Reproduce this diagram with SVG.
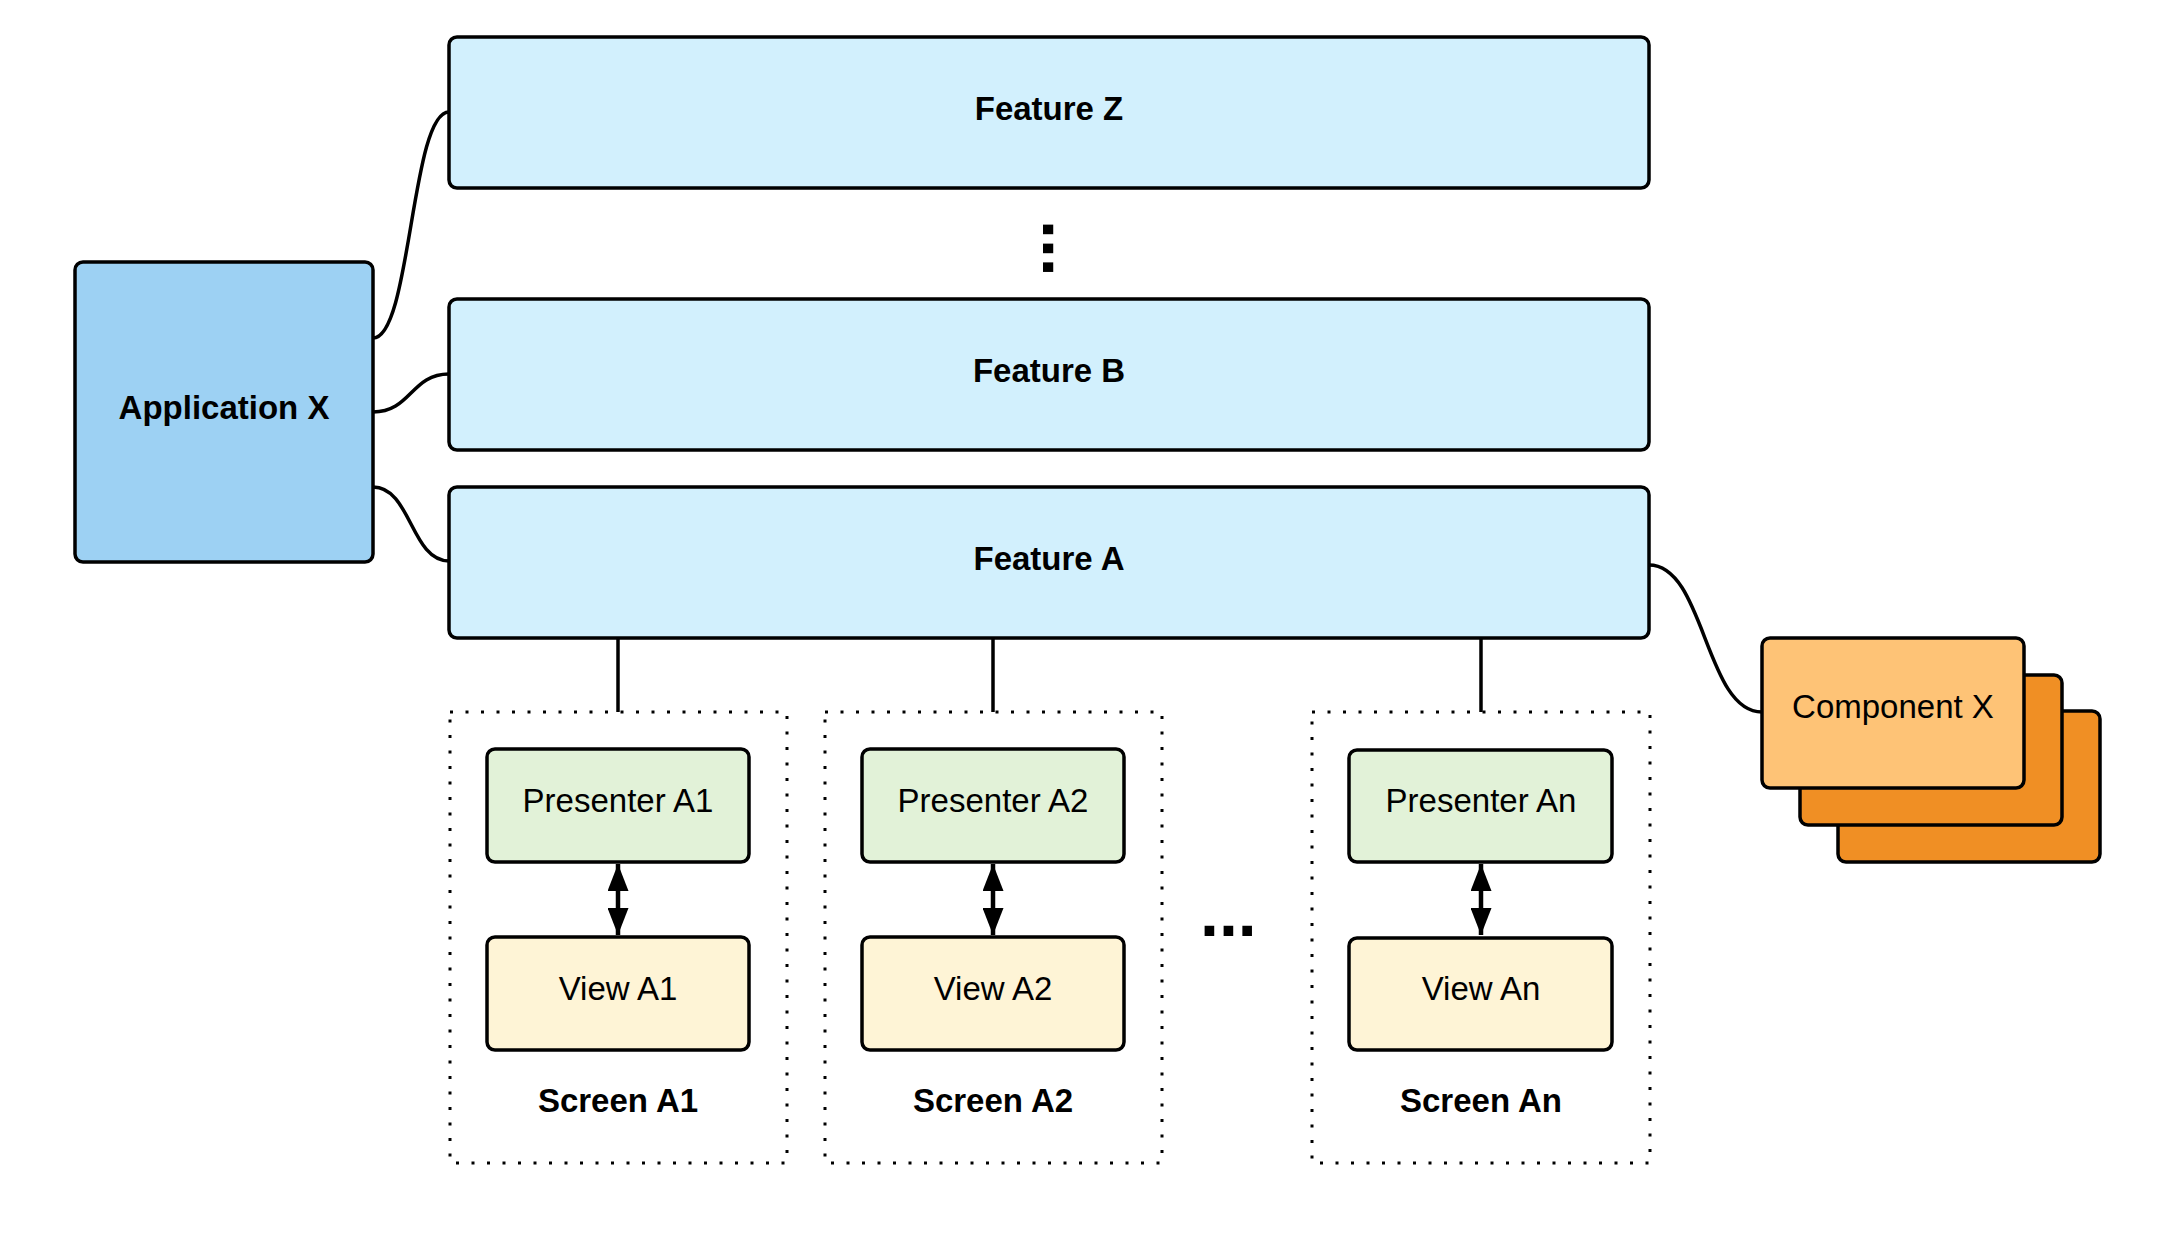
<svg xmlns="http://www.w3.org/2000/svg" width="2175" height="1240" viewBox="0 0 2175 1240">
<style>
.box{stroke:#000;stroke-width:3.5}
.lbl{font-family:"Liberation Sans",Arial,sans-serif;font-size:33px;text-anchor:middle;fill:#000}
.b{font-weight:bold}
.con{fill:none;stroke:#000;stroke-width:3.5}
.dot{fill:none;stroke:#000;stroke-width:3;stroke-dasharray:3 12.5}
.dots{font-family:"Liberation Sans",Arial,sans-serif;font-size:68px;font-weight:bold;fill:#000}
</style>
<defs>
<marker id="ah" viewBox="0 0 27 21" refX="27" refY="10.5" markerWidth="27" markerHeight="21" markerUnits="userSpaceOnUse" orient="auto-start-reverse">
<path d="M0,0 L27,10.5 L0,21 Z" fill="#000"/>
</marker>
</defs>
<rect width="2175" height="1240" fill="#fff"/>
<g id="connectors">
<path class="con" d="M373,338 C411,338 411,112 449,112"/>
<path class="con" d="M373,412 C411,412 411,374 449,374"/>
<path class="con" d="M373,487 C411,487 411,561 449,561"/>
<path class="con" d="M1649,565 C1705,565 1705,712 1762,712"/>
<line class="con" x1="618" y1="638" x2="618" y2="712"/>
<line class="con" x1="993" y1="638" x2="993" y2="712"/>
<line class="con" x1="1481" y1="638" x2="1481" y2="712"/>
<line x1="618" y1="864" x2="618" y2="935" stroke="#000" stroke-width="4.5" marker-start="url(#ah)" marker-end="url(#ah)"/>
<line x1="993" y1="864" x2="993" y2="935" stroke="#000" stroke-width="4.5" marker-start="url(#ah)" marker-end="url(#ah)"/>
<line x1="1481" y1="864" x2="1481" y2="935" stroke="#000" stroke-width="4.5" marker-start="url(#ah)" marker-end="url(#ah)"/>
</g>
<g id="app-x">
<rect class="box" x="75" y="262" width="298" height="300" rx="8" fill="#9dd1f3"/>
<text class="lbl b" x="224" y="419">Application X</text>
</g>
<g id="feature-z">
<rect class="box" x="449" y="37" width="1200" height="151" rx="8" fill="#d2f0fd"/>
<text class="lbl b" x="1049" y="120">Feature Z</text>
</g>
<g id="vdots">
<text class="dots" transform="translate(1043,220) rotate(90)" x="0" y="0">...</text>
</g>
<g id="feature-b">
<rect class="box" x="449" y="299" width="1200" height="151" rx="8" fill="#d2f0fd"/>
<text class="lbl b" x="1049" y="382">Feature B</text>
</g>
<g id="feature-a">
<rect class="box" x="449" y="487" width="1200" height="151" rx="8" fill="#d2f0fd"/>
<text class="lbl b" x="1049" y="570">Feature A</text>
</g>
<g id="screen-a1">
<rect class="dot" x="450" y="712" width="337" height="451"/>
<text class="lbl b" x="618" y="1112">Screen A1</text>
</g>
<g id="presenter-a1">
<rect class="box" x="487" y="749" width="262" height="113" rx="8" fill="#e2f2d8"/>
<text class="lbl" x="618" y="812">Presenter A1</text>
</g>
<g id="view-a1">
<rect class="box" x="487" y="937" width="262" height="113" rx="8" fill="#fef4d6"/>
<text class="lbl" x="618" y="1000">View A1</text>
</g>
<g id="screen-a2">
<rect class="dot" x="825" y="712" width="337" height="451"/>
<text class="lbl b" x="993" y="1112">Screen A2</text>
</g>
<g id="presenter-a2">
<rect class="box" x="862" y="749" width="262" height="113" rx="8" fill="#e2f2d8"/>
<text class="lbl" x="993" y="812">Presenter A2</text>
</g>
<g id="view-a2">
<rect class="box" x="862" y="937" width="262" height="113" rx="8" fill="#fef4d6"/>
<text class="lbl" x="993" y="1000">View A2</text>
</g>
<g id="hdots">
<text class="dots" x="1200" y="936">...</text>
</g>
<g id="screen-an">
<rect class="dot" x="1312" y="712" width="338" height="451"/>
<text class="lbl b" x="1481" y="1112">Screen An</text>
</g>
<g id="presenter-an">
<rect class="box" x="1349" y="750" width="263" height="112" rx="8" fill="#e2f2d8"/>
<text class="lbl" x="1481" y="812">Presenter An</text>
</g>
<g id="view-an">
<rect class="box" x="1349" y="938" width="263" height="112" rx="8" fill="#fef4d6"/>
<text class="lbl" x="1481" y="1000">View An</text>
</g>
<g id="component-x">
<rect class="box" x="1838" y="711" width="262" height="151" rx="8" fill="#f08f24"/>
<rect class="box" x="1800" y="675" width="262" height="150" rx="8" fill="#f08f24"/>
<rect class="box" x="1762" y="638" width="262" height="150" rx="8" fill="#fec376"/>
<text class="lbl" x="1893" y="718">Component X</text>
</g>
</svg>
